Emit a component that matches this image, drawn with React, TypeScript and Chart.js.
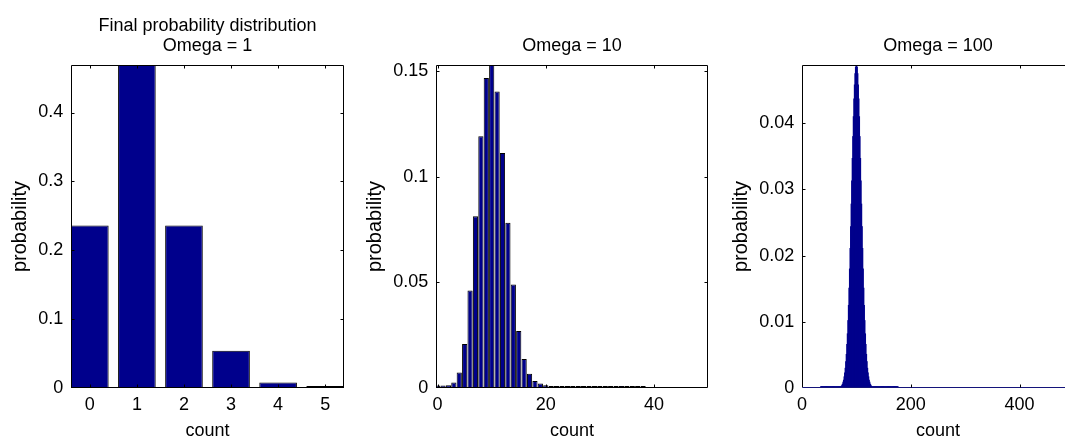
import React, { useEffect, useRef } from "react";
import { Chart, registerables } from "chart.js";

Chart.register(...registerables);

const FONT = "'Liberation Sans', Arial, Helvetica, sans-serif";
const NAVY = "#00008c";

// ---------- Omega = 1 ----------
const omega1Counts = [0, 1, 2, 3, 4, 5];
const omega1Probability = [0.236, 0.469, 0.236, 0.054, 0.008, 0.003];
const omega1XTicks = [0, 1, 2, 3, 4, 5];
const omega1XTickLabels = ["0", "1", "2", "3", "4", "5"];
const omega1YTicks = [0, 0.1, 0.2, 0.3, 0.4];
const omega1YTickLabels = ["0", "0.1", "0.2", "0.3", "0.4"];

// ---------- Omega = 10 ----------
const omega10Counts = [
  0, 1, 2, 3, 4, 5, 6, 7, 8, 9, 10, 11, 12, 13, 14, 15, 16, 17, 18, 19,
  20, 21, 22, 23, 24, 25, 26, 27, 28, 29, 30, 31, 32, 33, 34, 35, 36, 37, 38,
];
const omega10Probability = [
  0.0012, 0.0012, 0.0013, 0.0026, 0.0073, 0.0208, 0.0462, 0.0814, 0.1192, 0.1469,
  0.153, 0.1405, 0.1113, 0.0783, 0.049, 0.027, 0.0137, 0.0067, 0.0033, 0.0021,
  0.0013, 0.001, 0.001, 0.001, 0.001, 0.001, 0.001, 0.001, 0.001, 0.001,
  0.001, 0.001, 0.001, 0.001, 0.001, 0.001, 0.001, 0.001, 0.001,
];
const omega10XTicks = [0, 20, 40];
const omega10XTickLabels = ["0", "20", "40"];
const omega10YTicks = [0, 0.05, 0.1, 0.15];
const omega10YTickLabels = ["0", "0.05", "0.1", "0.15"];

// ---------- Omega = 100 ----------
const omega100Counts = [
  35, 36, 37, 38, 39, 40, 41, 42, 43, 44, 45, 46, 47, 48, 49, 50, 51, 52, 53, 54,
  55, 56, 57, 58, 59, 60, 61, 62, 63, 64, 65, 66, 67, 68, 69, 70, 71, 72, 73, 74,
  75, 76, 77, 78, 79, 80, 81, 82, 83, 84, 85, 86, 87, 88, 89, 90, 91, 92, 93, 94,
  95, 96, 97, 98, 99, 100, 101, 102, 103, 104, 105, 106, 107, 108, 109, 110, 111, 112, 113, 114,
  115, 116, 117, 118, 119, 120, 121, 122, 123, 124, 125, 126, 127, 128, 129, 130, 131, 132, 133, 134,
  135, 136, 137, 138, 139, 140, 141, 142, 143, 144, 145, 146, 147, 148, 149, 150, 151, 152, 153, 154,
  155, 156, 157, 158, 159, 160, 161, 162, 163, 164, 165, 166, 167, 168, 169, 170, 171, 172, 173, 174,
  175, 176,
];
const omega100Probability = [
  0.0002, 0.0002, 0.0002, 0.0002, 0.0002, 0.0002, 0.0002, 0.0002, 0.0002, 0.0002,
  0.0002, 0.0002, 0.0002, 0.0002, 0.0002, 0.0002, 0.0002, 0.0002, 0.0002, 0.0002,
  0.0002, 0.0002, 0.0002, 0.0002, 0.0002, 0.0002, 0.0002, 0.0002, 0.0002, 0.0002,
  0.0002, 0.0002, 0.0002, 0.0002, 0.0002, 0.0002, 0.0002, 0.0002, 0.0003, 0.00045,
  0.0006, 0.0009, 0.0012, 0.0017, 0.0023, 0.003, 0.004, 0.0051, 0.0066, 0.0082,
  0.0102, 0.0125, 0.0151, 0.018, 0.0211, 0.0244, 0.0278, 0.0313, 0.0347, 0.038,
  0.041, 0.0437, 0.0458, 0.0475, 0.0485, 0.0488, 0.0485, 0.0475, 0.0458, 0.0437,
  0.041, 0.038, 0.0347, 0.0313, 0.0278, 0.0244, 0.0211, 0.018, 0.0151, 0.0125,
  0.0102, 0.0082, 0.0066, 0.0051, 0.004, 0.003, 0.0023, 0.0017, 0.0012, 0.0009,
  0.0006, 0.00045, 0.0003, 0.0002, 0.0002, 0.0002, 0.0002, 0.0002, 0.0002, 0.0002,
  0.0002, 0.0002, 0.0002, 0.0002, 0.0002, 0.0002, 0.0002, 0.0002, 0.0002, 0.0002,
  0.0002, 0.0002, 0.0002, 0.0002, 0.0002, 0.0002, 0.0002, 0.0002, 0.0002, 0.0002,
  0.0002, 0.0002, 0.0002, 0.0002, 0.0002, 0.0002, 0.0002, 0.0002, 0.0002, 0.0002,
  0.0002, 0.0002, 0.0002, 0.0002, 0.0002, 0.0002, 0.0002, 0.0002, 0.0002, 0.0002,
  0.0002, 0.0002,
];
const omega100XTicks = [0, 200, 400];
const omega100XTickLabels = ["0", "200", "400"];
const omega100YTicks = [0, 0.01, 0.02, 0.03, 0.04];
const omega100YTickLabels = ["0", "0.01", "0.02", "0.03", "0.04"];

const CANVAS_H = 440;

const framePlugin = {
  id: "matlabFrame",
  afterDatasetsDraw(chart: any, _args: any, opts: any) {
    const { ctx, chartArea: a, scales } = chart;
    const l = a.left + 0.5;
    const r = a.right - 0.5;
    const t = a.top + 0.5;
    const b = a.bottom - 0.5;
    ctx.save();
    ctx.lineWidth = 1;
    ctx.strokeStyle = "#000";
    ctx.beginPath();
    ctx.moveTo(l, b);
    ctx.lineTo(l, t);
    ctx.lineTo(r, t);
    ctx.lineTo(r, b);
    ctx.stroke();
    ctx.strokeStyle = opts.baseColor || "#000";
    ctx.beginPath();
    ctx.moveTo(l, b);
    ctx.lineTo(r, b);
    ctx.stroke();
    ctx.strokeStyle = "#000";
    const len = 3;
    ctx.beginPath();
    (opts.xTicks || []).forEach((v: number) => {
      const px = Math.round(scales.x.getPixelForValue(v)) + 0.5;
      if (px <= a.left + 1 || px >= a.right - 1) return;
      ctx.moveTo(px, b);
      ctx.lineTo(px, b - len);
      ctx.moveTo(px, t);
      ctx.lineTo(px, t + len);
    });
    (opts.yTicks || []).forEach((v: number) => {
      const py = Math.round(scales.y.getPixelForValue(v)) + 0.5;
      if (py <= a.top + 1 || py >= a.bottom - 1) return;
      ctx.moveTo(l, py);
      ctx.lineTo(l + len, py);
      ctx.moveTo(r, py);
      ctx.lineTo(r - len, py);
    });
    ctx.stroke();
    ctx.restore();
  },
};

type PanelProps = {
  title: string[];
  counts: number[];
  probs: number[];
  xTicks: number[];
  xTickLabels: string[];
  yTicks: number[];
  yTickLabels: string[];
  xMin: number;
  xMax: number;
  yMax: number;
  left: number;
  width: number;
  axisWidth: number;
  rightPad: number;
  barStyle: any;
  baseColor: string;
};

function Panel(p: PanelProps) {
  const ref = useRef<HTMLCanvasElement | null>(null);
  useEffect(() => {
    if (!ref.current) return;
    const lh = 20.7;
    const lineCount = p.title.length;
    const lastCenter = 46.5;
    const firstCenter = lastCenter - (lineCount - 1) * lh;
    const padTop = firstCenter - lh / 2;
    const padBottom = 65 - padTop - lineCount * lh;
    const chart = new Chart(ref.current, {
      type: "bar",
      data: {
        datasets: [
          {
            data: p.counts.map((c, i) => ({ x: c, y: p.probs[i] })),
            backgroundColor: NAVY,
            borderSkipped: false,
            clip: 0,
            ...p.barStyle,
          },
        ],
      },
      plugins: [framePlugin],
      options: {
        animation: false,
        responsive: false,
        events: [],
        layout: { padding: { left: 0, top: 0, bottom: 0, right: p.rightPad } },
        plugins: {
          legend: { display: false },
          tooltip: { enabled: false },
          title: {
            display: true,
            text: p.title,
            fullSize: false,
            color: "#000",
            font: { family: FONT, size: 18, weight: "normal", lineHeight: lh / 18 },
            padding: { top: padTop, bottom: padBottom },
          },
          matlabFrame: { xTicks: p.xTicks, yTicks: p.yTicks, baseColor: p.baseColor },
        } as any,
        scales: {
          x: {
            type: "linear",
            min: p.xMin,
            max: p.xMax,
            offset: false,
            grid: { display: false, drawTicks: false, tickLength: 0, offset: false },
            border: { display: false },
            afterBuildTicks: (s: any) => {
              s.ticks = p.xTicks.map((v) => ({ value: v }));
            },
            afterFit: (s: any) => {
              s.height = CANVAS_H - 388;
            },
            ticks: {
              autoSkip: false,
              maxRotation: 0,
              minRotation: 0,
              padding: 6.7,
              color: "#000",
              font: { family: FONT, size: 18, lineHeight: 1.2 },
              callback: (_v: any, i: number) => p.xTickLabels[i],
            },
            title: {
              display: true,
              text: "count",
              color: "#000",
              font: { family: FONT, size: 18, lineHeight: 1 },
              padding: { top: 0, bottom: 0 },
            },
          },
          y: {
            type: "linear",
            min: 0,
            max: p.yMax,
            grid: { display: false, drawTicks: false, tickLength: 0 },
            border: { display: false },
            afterBuildTicks: (s: any) => {
              s.ticks = p.yTicks.map((v) => ({ value: v }));
            },
            afterFit: (s: any) => {
              s.width = p.axisWidth;
            },
            ticks: {
              autoSkip: false,
              padding: 7.7,
              color: "#000",
              font: { family: FONT, size: 18, lineHeight: 1.2 },
              callback: (_v: any, i: number) => p.yTickLabels[i],
            },
            title: {
              display: true,
              text: "probability",
              color: "#000",
              font: { family: FONT, size: 20, lineHeight: 1.2 },
              padding: { top: 8.8, bottom: 0 },
            },
          },
        },
      } as any,
    });
    return () => chart.destroy();
  }, []);
  return (
    <canvas
      ref={ref}
      width={p.width}
      height={CANVAS_H}
      style={{ position: "absolute", left: p.left, top: 0, width: p.width, height: CANVAS_H }}
    />
  );
}

export default function App() {
  return (
    <div
      style={{
        position: "absolute",
        left: 0,
        top: 0,
        width: 1065,
        height: 440,
        overflow: "hidden",
        background: "#fff",
      }}
    >
      <Panel
        title={["Final probability distribution", "Omega = 1"]}
        counts={omega1Counts}
        probs={omega1Probability}
        xTicks={omega1XTicks}
        xTickLabels={omega1XTickLabels}
        yTicks={omega1YTicks}
        yTickLabels={omega1YTickLabels}
        xMin={-0.4}
        xMax={5.4}
        yMax={0.469}
        left={0}
        width={355}
        axisWidth={71}
        rightPad={11}
        barStyle={{ categoryPercentage: 0.8, barPercentage: 1, borderColor: "#000", borderWidth: 1 }}
        baseColor="#000"
      />
      <Panel
        title={["Omega = 10"]}
        counts={omega10Counts}
        probs={omega10Probability}
        xTicks={omega10XTicks}
        xTickLabels={omega10XTickLabels}
        yTicks={omega10YTicks}
        yTickLabels={omega10YTickLabels}
        xMin={-0.3}
        xMax={50}
        yMax={0.153}
        left={355}
        width={365}
        axisWidth={81}
        rightPad={12}
        barStyle={{ categoryPercentage: 0.96, barPercentage: 1, borderColor: "#000", borderWidth: 1 }}
        baseColor="#000"
      />
      <Panel
        title={["Omega = 100"]}
        counts={omega100Counts}
        probs={omega100Probability}
        xTicks={omega100XTicks}
        xTickLabels={omega100XTickLabels}
        yTicks={omega100YTicks}
        yTickLabels={omega100YTickLabels}
        xMin={0}
        xMax={500}
        yMax={0.0488}
        left={721}
        width={371}
        axisWidth={81}
        rightPad={18}
        barStyle={{ barThickness: 1.2, borderWidth: 0 }}
        baseColor="#14147a"
      />
    </div>
  );
}
